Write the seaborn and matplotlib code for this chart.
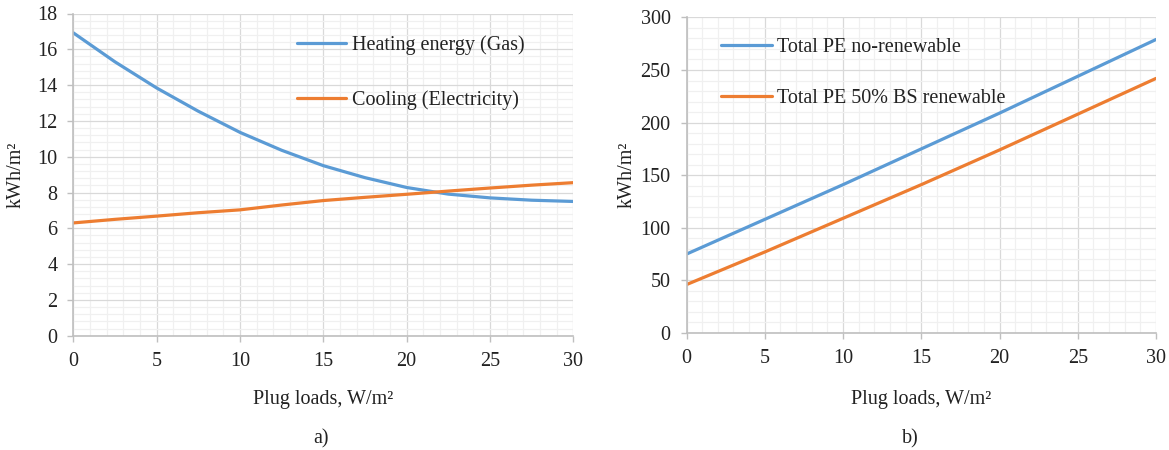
import matplotlib
matplotlib.use("Agg")
import matplotlib.pyplot as plt
from matplotlib.ticker import MultipleLocator
import pandas as pd
import seaborn as sns

# ---- data ----
plug_a = [0, 2.5, 5, 7.5, 10, 12.5, 15, 17.5, 20, 22.5, 25, 27.5, 30]
heating_gas = [16.92, 15.30, 13.84, 12.54, 11.36, 10.36, 9.50, 8.83, 8.28, 7.91, 7.70, 7.57, 7.50]
cooling_el = [6.30, 6.50, 6.68, 6.87, 7.03, 7.30, 7.55, 7.73, 7.90, 8.08, 8.25, 8.41, 8.55]

plug_b = [0, 5, 10, 15, 20, 25, 30]
pe_nonren = [75, 108, 141, 175, 209, 244, 279]
pe_ren50 = [46, 77, 109, 141, 174, 208, 242]

label_heat = "Heating energy (Gas)"
label_cool = "Cooling (Electricity)"
label_nonren = "Total PE no-renewable"
label_ren = "Total PE 50% BS renewable"
xlabel = "Plug loads, W/m²"
ylabel = "kWh/m²"

BLUE = "#5B9BD5"
ORANGE = "#ED7D31"
TXT = "#222222"
FS = 14.5

sns.set_style("white")
plt.rcParams["font.family"] = ["Liberation Serif", "DejaVu Serif"]
plt.rcParams["font.size"] = FS

df_a = pd.DataFrame({"x": plug_a, "heat": heating_gas, "cool": cooling_el})
df_b = pd.DataFrame({"x": plug_b, "nonren": pe_nonren, "ren": pe_ren50})

fig = plt.figure(figsize=(11.69, 4.5), dpi=100)
W, H = 1169.0, 450.0
ax1 = fig.add_axes([73.3 / W, 1 - 335.7 / H, 500 / W, 322.2 / H])
ax2 = fig.add_axes([686.5 / W, 1 - 333 / H, 469.5 / W, 315.6 / H])

LW = 2.3
sns.lineplot(data=df_a, x="x", y="heat", ax=ax1, color=BLUE, linewidth=LW, label=label_heat)
sns.lineplot(data=df_a, x="x", y="cool", ax=ax1, color=ORANGE, linewidth=LW, label=label_cool)
sns.lineplot(data=df_b, x="x", y="nonren", ax=ax2, color=BLUE, linewidth=LW, label=label_nonren)
sns.lineplot(data=df_b, x="x", y="ren", ax=ax2, color=ORANGE, linewidth=LW, label=label_ren)

ax1.set_xlim(0, 30)
ax1.set_ylim(0, 18)
ax1.xaxis.set_major_locator(MultipleLocator(5))
ax1.xaxis.set_minor_locator(MultipleLocator(1))
ax1.yaxis.set_major_locator(MultipleLocator(2))
ax1.yaxis.set_minor_locator(MultipleLocator(0.4))

ax2.set_xlim(0, 30)
ax2.set_ylim(0, 300)
ax2.xaxis.set_major_locator(MultipleLocator(5))
ax2.xaxis.set_minor_locator(MultipleLocator(1))
ax2.yaxis.set_major_locator(MultipleLocator(50))
ax2.yaxis.set_minor_locator(MultipleLocator(10))

for ax, xl_y, yl_x in [(ax1, -(404 - 335.7) / 322.2, (16 - 73.3) / 500),
                       (ax2, -(404 - 333) / 315.6, (627 - 686.5) / 469.5)]:
    ax.grid(which="major", color="#D9D9D9", linewidth=0.9)
    ax.grid(which="minor", color="#F0F0F0", linewidth=0.9)
    ax.set_axisbelow(True)
    for s in ["top", "right"]:
        ax.spines[s].set_visible(False)
    for s in ["left", "bottom"]:
        ax.spines[s].set_color("#BFBFBF")
        ax.spines[s].set_linewidth(1.2)
    ax.tick_params(which="major", direction="out", length=4, width=1, color="#BFBFBF",
                   pad=7.5, labelsize=FS, labelcolor=TXT, left=True, bottom=True)
    ax.tick_params(which="minor", length=0)
    ax.set_xlabel(xlabel, fontsize=FS, color=TXT, va="baseline")
    ax.xaxis.set_label_coords(0.5, xl_y)
    ax.set_ylabel(ylabel, fontsize=FS, color=TXT, va="center")
    ax.yaxis.set_label_coords(yl_x, 0.5)

ax1.legend(loc="upper left", bbox_to_anchor=((296.7 - 73.3) / 500, (335.7 - 35.5) / 322.2),
           frameon=False, borderpad=0, borderaxespad=0, handlelength=2.45,
           handletextpad=0.3, labelspacing=1.75, fontsize=FS, labelcolor=TXT)
ax2.legend(loc="upper left", bbox_to_anchor=((720.7 - 686.5) / 469.5, (333 - 37.5) / 315.6),
           frameon=False, borderpad=0, borderaxespad=0, handlelength=2.55,
           handletextpad=0.25, labelspacing=1.6, fontsize=FS, labelcolor=TXT)

fig.text(321 / W, 1 - 443.5 / H, "a)", ha="center", va="baseline", fontsize=FS, color=TXT)
fig.text(910 / W, 1 - 443.5 / H, "b)", ha="center", va="baseline", fontsize=FS, color=TXT)

fig.savefig("out.png", dpi=100)
